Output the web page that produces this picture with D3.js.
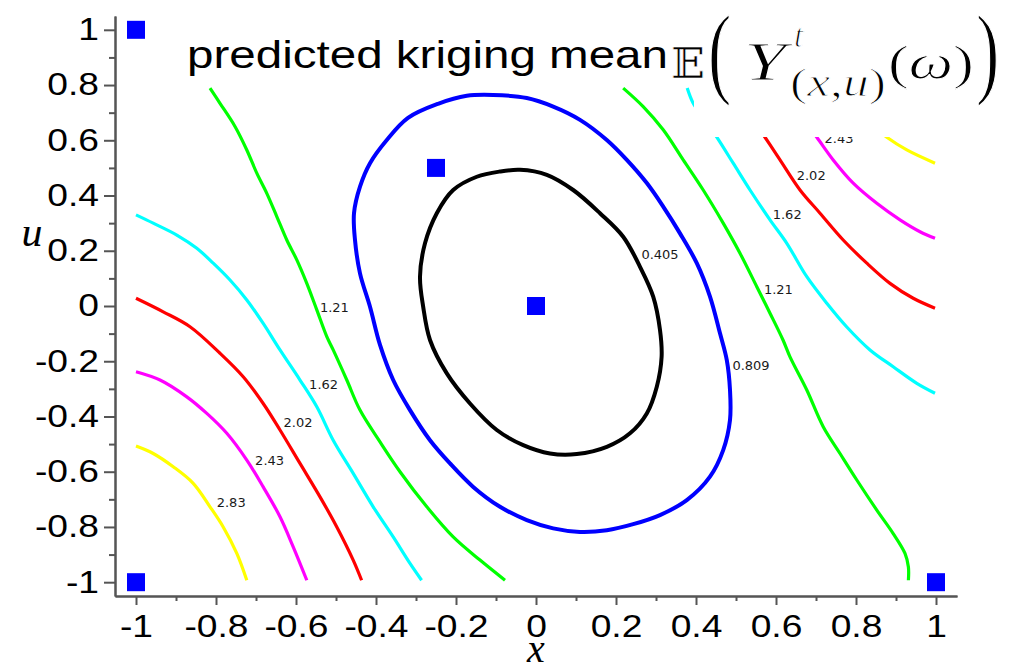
<!DOCTYPE html>
<html><head><meta charset="utf-8">
<script src="https://cdn.jsdelivr.net/npm/d3@7"></script>
<style>
html,body{margin:0;padding:0;background:#fff;}
svg{display:block;}
</style></head>
<body>
<svg id="chart" width="1022" height="666"></svg>
<script>
// Contour levels of the predicted kriging mean and their line colours
const levels = ["0.405", "0.809", "1.21", "1.62", "2.02", "2.43", "2.83"];
const levelColors = ["#000000", "#0000ff", "#00ff00", "#00ffff", "#ff0000", "#ff00ff", "#ffff00"];
const levelWidths = [4, 4, 3.2, 3.2, 3.2, 3.2, 3.2];

// Contour paths as (x, u) pairs
const c0405 = [[-0.04,0.493],[0.027,0.475],[0.093,0.42],[0.16,0.336],[0.218,0.251],[0.26,0.142],[0.293,0.034],[0.31,-0.087],[0.314,-0.184],[0.302,-0.292],[0.277,-0.389],[0.235,-0.461],[0.177,-0.51],[0.102,-0.536],[0.035,-0.534],[-0.032,-0.504],[-0.098,-0.449],[-0.165,-0.353],[-0.223,-0.244],[-0.265,-0.123],[-0.282,-0.003],[-0.29,0.106],[-0.2775,0.227],[-0.248,0.336],[-0.207,0.42],[-0.148,0.468],[-0.09,0.487]];
const c0809 = [[-0.107,0.764],[-0.023,0.753],[0.043,0.722],[0.11,0.674],[0.177,0.601],[0.227,0.529],[0.277,0.445],[0.318,0.36],[0.36,0.263],[0.402,0.155],[0.435,0.034],[0.46,-0.099],[0.477,-0.196],[0.485,-0.304],[0.485,-0.413],[0.468,-0.522],[0.435,-0.618],[0.377,-0.703],[0.31,-0.757],[0.243,-0.79],[0.177,-0.812],[0.11,-0.818],[0.043,-0.805],[-0.023,-0.775],[-0.09,-0.727],[-0.157,-0.655],[-0.215,-0.57],[-0.265,-0.486],[-0.315,-0.377],[-0.357,-0.268],[-0.39,-0.141],[-0.415,-0.003],[-0.44,0.118],[-0.4525,0.239],[-0.455,0.336],[-0.44,0.432],[-0.415,0.517],[-0.373,0.601],[-0.32,0.681],[-0.245,0.732],[-0.173,0.761]];
const c121Left = [[-0.815,0.789],[-0.79,0.734],[-0.7525,0.65],[-0.723,0.565],[-0.698,0.481],[-0.673,0.408],[-0.648,0.324],[-0.623,0.239],[-0.598,0.167],[-0.573,0.082],[-0.548,-0.014],[-0.523,-0.111],[-0.507,-0.159],[-0.473,-0.268],[-0.44,-0.377],[-0.39,-0.492],[-0.34,-0.6],[-0.273,-0.727],[-0.207,-0.836],[-0.14,-0.92],[-0.0775,-0.993]];
const c121Right = [[0.218,0.789],[0.268,0.722],[0.318,0.638],[0.368,0.529],[0.418,0.42],[0.468,0.3],[0.51,0.191],[0.552,0.07],[0.585,-0.026],[0.6175,-0.123],[0.635,-0.184],[0.677,-0.304],[0.718,-0.437],[0.76,-0.534],[0.802,-0.63],[0.852,-0.739],[0.893,-0.824],[0.9225,-0.896],[0.931,-0.945],[0.931,-0.993]];
const c162Left = [[-1.0,0.33],[-0.957,0.3],[-0.898,0.257],[-0.848,0.209],[-0.807,0.155],[-0.765,0.094],[-0.723,0.022],[-0.682,-0.063],[-0.64,-0.159],[-0.59,-0.268],[-0.548,-0.365],[-0.507,-0.486],[-0.457,-0.606],[-0.407,-0.727],[-0.357,-0.836],[-0.315,-0.932],[-0.286,-0.993]];
const c162Right = [[0.378,0.789],[0.393,0.734],[0.4225,0.674],[0.452,0.611],[0.493,0.517],[0.535,0.42],[0.585,0.312],[0.627,0.227],[0.677,0.106],[0.727,0.01],[0.777,-0.076],[0.835,-0.159],[0.893,-0.22],[0.952,-0.28],[0.9975,-0.316]];
const c202Left = [[-1.0,0.028],[-0.932,-0.021],[-0.865,-0.075],[-0.79,-0.171],[-0.732,-0.256],[-0.682,-0.353],[-0.64,-0.449],[-0.59,-0.57],[-0.54,-0.691],[-0.498,-0.8],[-0.457,-0.92],[-0.436,-0.993]];
const c202Right = [[0.535,0.692],[0.5725,0.611],[0.61,0.529],[0.66,0.42],[0.71,0.336],[0.768,0.239],[0.827,0.155],[0.885,0.082],[0.943,0.028],[0.9975,-0.008]];
const c243Left = [[-1.0,-0.238],[-0.94,-0.268],[-0.873,-0.329],[-0.823,-0.389],[-0.773,-0.461],[-0.723,-0.558],[-0.682,-0.655],[-0.64,-0.763],[-0.607,-0.872],[-0.573,-0.993]];
const c243Right = [[0.66,0.692],[0.702,0.611],[0.743,0.529],[0.793,0.445],[0.852,0.372],[0.91,0.312],[0.96,0.269],[0.9975,0.245]];
const c283Left = [[-1.0,-0.507],[-0.957,-0.534],[-0.907,-0.582],[-0.857,-0.642],[-0.815,-0.727],[-0.782,-0.8],[-0.748,-0.896],[-0.723,-0.993]];
const c283Right = [[0.8225,0.674],[0.877,0.611],[0.927,0.565],[0.9975,0.517]];

// Inline contour labels: level index and (x, u) centre
const labelLevel = [0, 1, 2, 2, 3, 3, 4, 4, 5, 5, 6];
const labelX = [0.31, 0.5375, -0.504, 0.606, -0.531, 0.628, -0.595, 0.688, -0.666, 0.7575, -0.762];
const labelU = [0.185, -0.214, -0.007, 0.058, -0.284, 0.333, -0.42, 0.472, -0.558, 0.608, -0.71];

// Design points of the kriging model
const sampleX = [-1, -0.25, 0, -1, 1];
const sampleU = [1, 0.5, 0, -1, -1];

// Axis ticks
const majorTicks = [-1, -0.8, -0.6, -0.4, -0.2, 0, 0.2, 0.4, 0.6, 0.8, 1];
const minorTicks = [-0.9, -0.7, -0.5, -0.3, -0.1, 0.1, 0.3, 0.5, 0.7, 0.9];

const contours = [
  { level: 0, pts: c0405, closed: true },
  { level: 1, pts: c0809, closed: true },
  { level: 2, pts: c121Left }, { level: 2, pts: c121Right },
  { level: 3, pts: c162Left }, { level: 3, pts: c162Right },
  { level: 4, pts: c202Left }, { level: 4, pts: c202Right },
  { level: 5, pts: c243Left }, { level: 5, pts: c243Right },
  { level: 6, pts: c283Left }, { level: 6, pts: c283Right }
];

const svg = d3.select("#chart");
const x = d3.scaleLinear().domain([-1.0525, 1.0525]).range([115, 957]);
const y = d3.scaleLinear().domain([-1.05, 1.05]).range([596, 16]);

const fmt = d => String(+d.toFixed(1));
const axisColor = "#555";
const tickFont = "'Liberation Sans', Arial, sans-serif";
const stretch = 1.2;

// contour lines
const openLine = d3.line().x(d => x(d[0])).y(d => y(d[1])).curve(d3.curveCatmullRom.alpha(0.5));
const closedLine = d3.line().x(d => x(d[0])).y(d => y(d[1])).curve(d3.curveCatmullRomClosed.alpha(0.5));
svg.append("g").selectAll("path").data(contours).join("path")
  .attr("d", d => (d.closed ? closedLine : openLine)(d.pts))
  .attr("fill", "none")
  .attr("stroke", d => levelColors[d.level])
  .attr("stroke-width", d => levelWidths[d.level])
  .attr("stroke-linejoin", "round");

// contour labels
svg.append("g").selectAll("text").data(labelLevel).join("text")
  .attr("x", (d, i) => x(labelX[i]))
  .attr("y", (d, i) => y(labelU[i]))
  .attr("text-anchor", "middle")
  .attr("dominant-baseline", "central")
  .attr("font-family", "'DejaVu Sans', sans-serif")
  .attr("font-size", 13)
  .attr("fill", "#1a1a1a")
  .text(d => levels[d]);

// design points
const sq = 18;
svg.append("g").selectAll("rect").data(sampleX).join("rect")
  .attr("x", (d, i) => x(d) - sq / 2)
  .attr("y", (d, i) => y(sampleU[i]) - sq / 2)
  .attr("width", sq).attr("height", sq)
  .attr("fill", "#0000ff");

// axes
function styleAxis(g) {
  g.select(".domain").attr("stroke", axisColor).attr("stroke-width", 2);
  g.selectAll(".tick line").attr("stroke", axisColor).attr("stroke-width", 2);
  g.selectAll(".tick text").attr("fill", "#000").attr("font-family", tickFont).attr("font-size", 31);
}
const gx = svg.append("g").attr("transform", `translate(0,${y(-1.05)})`);
gx.call(d3.axisBottom(x).tickValues(majorTicks).tickFormat(fmt).tickSize(9).tickPadding(10).tickSizeOuter(0)).call(styleAxis);
svg.append("g").attr("transform", `translate(0,${y(-1.05)})`)
  .call(d3.axisBottom(x).tickValues(minorTicks).tickFormat("").tickSize(5).tickSizeOuter(0)).call(styleAxis);
const gy = svg.append("g").attr("transform", `translate(${x(-1.0525)},0)`);
gy.call(d3.axisLeft(y).tickValues(majorTicks).tickFormat(fmt).tickSize(11).tickPadding(5).tickSizeOuter(0)).call(styleAxis);
svg.append("g").attr("transform", `translate(${x(-1.0525)},0)`)
  .call(d3.axisLeft(y).tickValues(minorTicks).tickFormat("").tickSize(6).tickSizeOuter(0)).call(styleAxis);

// widen the tick labels
svg.selectAll(".tick text").each(function () {
  const w = this.getComputedTextLength();
  if (w > 0) d3.select(this).attr("textLength", w * stretch).attr("lengthAdjust", "spacingAndGlyphs");
});

// axis names
const serif = "'Liberation Serif', 'DejaVu Serif', serif";
svg.append("text").attr("x", x(0)).attr("y", 662).attr("text-anchor", "middle")
  .attr("font-family", serif).attr("font-style", "italic").attr("font-size", 40).text("x");
svg.append("text").attr("x", 32).attr("y", 246).attr("text-anchor", "middle")
  .attr("font-family", serif).attr("font-style", "italic").attr("font-size", 42).text("u");

// title block with white backing
svg.append("rect").attr("x", 694).attr("y", 0).attr("width", 328).attr("height", 137).attr("fill", "#fff");
svg.append("text").attr("x", 187).attr("y", 68)
  .attr("font-family", "'Liberation Sans', Arial, sans-serif").attr("font-size", 38.5)
  .attr("textLength", 481).attr("lengthAdjust", "spacingAndGlyphs")
  .text("predicted kriging mean");

// formula E( Y^t_(x,u)(ω) ), thin strokes like a math typeface
const f = svg.append("g").attr("font-family", serif).attr("fill", "#000")
  .attr("stroke", "#fff").attr("stroke-width", 1);
f.append("text").attr("x", 671).attr("y", 78).attr("font-family", "'DejaVu Serif', serif")
  .attr("stroke-width", 0.6)
  .attr("font-size", 43).attr("textLength", 34).attr("lengthAdjust", "spacingAndGlyphs").text("𝔼");
f.append("text").attr("transform", "translate(708,85) scale(1,1.45)").attr("font-size", 70).text("(");
f.append("text").attr("x", 744).attr("y", 80).attr("font-style", "italic").attr("font-size", 54)
  .attr("textLength", 42).attr("lengthAdjust", "spacingAndGlyphs").text("Y");
f.append("text").attr("x", 794).attr("y", 47).attr("font-style", "italic").attr("font-size", 33).text("t");
const sub = f.append("text").attr("x", 790).attr("y", 96).attr("font-size", 40)
  .attr("textLength", 96).attr("lengthAdjust", "spacingAndGlyphs");
sub.append("tspan").text("(");
sub.append("tspan").attr("font-style", "italic").text("x");
sub.append("tspan").text(",");
sub.append("tspan").attr("font-style", "italic").text("u");
sub.append("tspan").text(")");
const om = f.append("text").attr("x", 888).attr("y", 79).attr("font-size", 49)
  .attr("textLength", 86).attr("lengthAdjust", "spacingAndGlyphs");
om.append("tspan").text("(");
om.append("tspan").attr("font-style", "italic").text("ω");
om.append("tspan").text(")");
f.append("text").attr("transform", "translate(976,85) scale(1,1.45)").attr("font-size", 70).text(")");
</script>
</body></html>
